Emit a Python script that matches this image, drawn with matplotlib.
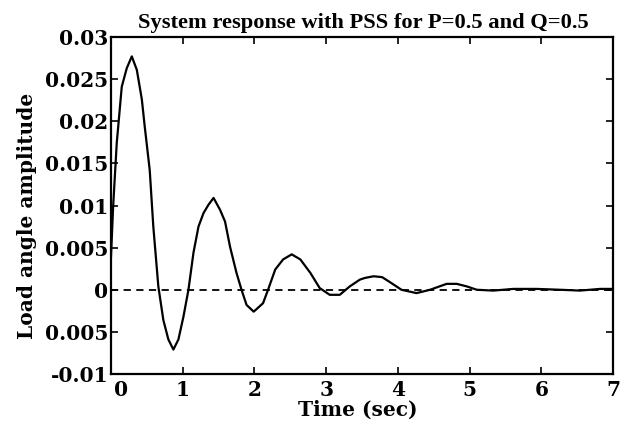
import matplotlib
matplotlib.use("Agg")
import matplotlib.pyplot as plt
import matplotlib.transforms as mtransforms

# Data
time_s = [0.0, 0.03, 0.08, 0.15, 0.22, 0.29, 0.36, 0.43, 0.47, 0.54, 0.59, 0.66,
          0.73, 0.80, 0.87, 0.94, 1.01, 1.08, 1.15, 1.22, 1.29, 1.36, 1.43, 1.52,
          1.59, 1.66, 1.75, 1.82, 1.89, 1.99, 2.12, 2.19, 2.29, 2.40, 2.52, 2.64,
          2.78, 2.91, 3.05, 3.19, 3.33, 3.47, 3.54, 3.66, 3.78, 3.89, 4.05, 4.26,
          4.45, 4.68, 4.82, 4.96, 5.10, 5.33, 5.61, 5.93, 6.26, 6.54, 6.82, 7.0]
load_angle = [0.004, 0.0099, 0.0174, 0.0241, 0.0263, 0.0277, 0.0261, 0.0226, 0.0194,
              0.0142, 0.0075, 0.0004, -0.0036, -0.0059, -0.0071, -0.0059, -0.0032,
              0.0, 0.0044, 0.0075, 0.0091, 0.0101, 0.0109, 0.0095, 0.0081, 0.0051,
              0.002, 0.0, -0.0018, -0.0026, -0.0016, 0.0, 0.0024, 0.0036, 0.0042,
              0.0036, 0.002, 0.0002, -0.0006, -0.0006, 0.0004, 0.0012, 0.0014,
              0.0016, 0.0015, 0.0009, 0.0, -0.0004, 0.0, 0.0007, 0.0007, 0.0004,
              0.0, -0.0001, 0.0001, 0.0001, 0.0, -0.0001, 0.0001, 0.0001]
zero_line_t = [0, 7]
zero_line_v = [0, 0]

x_ticks = [0, 1, 2, 3, 4, 5, 6, 7]
x_tick_labels = ["0", "1", "2", "3", "4", "5", "6", "7"]
y_ticks = [0.03, 0.025, 0.02, 0.015, 0.01, 0.005, 0.0, -0.005, -0.01]
y_tick_labels = ["0.03", "0.025", "0.02", "0.015", "0.01", "0.005", "0", "0.005", "-0.01"]

title = "System response with PSS for P=0.5 and Q=0.5"
xlabel = "Time (sec)"
ylabel = "Load angle amplitude"

W, H = 624, 423
fig = plt.figure(figsize=(W / 100, H / 100), dpi=100)
fig.patch.set_facecolor("white")
ax = fig.add_axes([111 / W, 1 - 374 / H, (613 - 111) / W, (374 - 37) / H])

ax.plot(time_s, load_angle, color="black", linewidth=1.6)
ax.plot(zero_line_t, zero_line_v, color="black", linewidth=1.3, linestyle=(0, (4, 3)))

ax.set_xlim(0, 7)
ax.set_ylim(-0.01, 0.03)
ax.set_xticks(x_ticks)
ax.set_xticklabels(x_tick_labels)
ax.set_yticks(y_ticks)
ax.set_yticklabels(y_tick_labels)

for lab in ax.get_xticklabels() + ax.get_yticklabels():
    lab.set_fontfamily("DejaVu Serif")
    lab.set_fontweight("bold")
    lab.set_fontsize(14.5)

ax.tick_params(direction="in", length=5, width=1.2, top=True, right=True, pad=2)
ax.tick_params(axis="x", pad=4)
for sp in ax.spines.values():
    sp.set_linewidth(1.6)

# first x tick label sits right of the origin, as in the reference
first = ax.get_xticklabels()[0]
first.set_transform(first.get_transform() +
                    mtransforms.ScaledTranslation(0.10, 0, fig.dpi_scale_trans))

fig.text(363 / W, 1 - 23 / H, title, ha="center", va="center",
         family="Liberation Serif", weight="bold", size=16.2)
fig.text(358 / W, 1 - 410 / H, xlabel, ha="center", va="center",
         family="DejaVu Serif", weight="bold", size=14.5)
fig.text(27 / W, 1 - 216 / H, ylabel, ha="center", va="center", rotation=90,
         family="DejaVu Serif", weight="bold", size=14.5)

fig.savefig("out.png", dpi=100, facecolor="white")
